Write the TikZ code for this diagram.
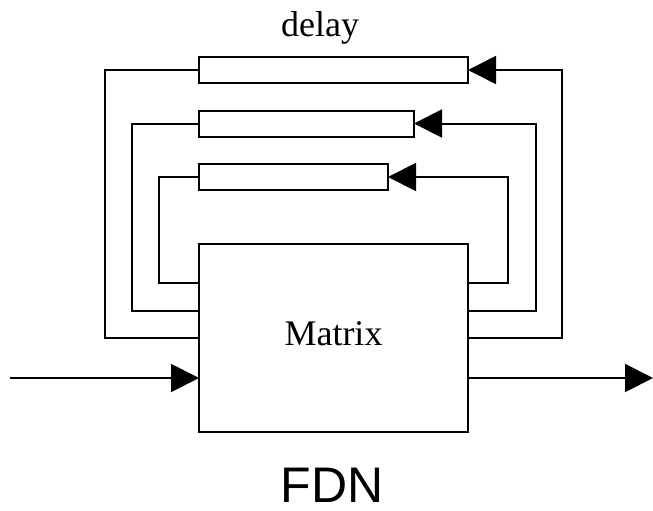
\documentclass[tikz,border=0pt]{standalone}
\usepackage{fontspec}
\setmainfont{Liberation Serif}
\newfontfamily\fdnfont{Liberation Sans}
\usetikzlibrary{arrows.meta}
\begin{document}
\begin{tikzpicture}[x=1pt,y=-1pt,line width=2pt,
  dbox/.style={draw,rectangle,minimum height=26pt,inner sep=0pt,outer sep=0pt,anchor=west},
  fb/.style={-{Triangle[length=28pt,width=28pt]}},
  sig/.style={-{Triangle[length=28pt,width=28pt]}}]
\useasboundingbox (0,0) rectangle (653,511);
\node[draw,rectangle,minimum width=269pt,minimum height=188pt,inner sep=0pt,outer sep=0pt,text depth=8pt,font=\fontsize{36}{40}\selectfont](mat)at(333.5,338){Matrix};
\node[dbox,minimum width=269pt](d1)at(199,70){};
\node[dbox,minimum width=215pt](d2)at(199,123.5){};
\node[dbox,minimum width=189pt](d3)at(199,177){};
\node[anchor=base,inner sep=0pt,font=\fontsize{36}{40}\selectfont](lbl)at(320,37){delay};
\node[anchor=base,inner sep=0pt,font=\fdnfont\fontsize{50}{56}\selectfont](fdn)at(332,502){FDN};
\draw[fb] ([yshift=55pt]mat.east) -- ++(40,0) |- (d3);
\draw[fb] ([yshift=27pt]mat.east) -- ++(68,0) |- (d2);
\draw[fb] (mat.east) -- ++(94,0) |- (d1);
\draw (d3.west) -- ++(-40,0) |- ([yshift=55pt]mat.west);
\draw (d2.west) -- ++(-67,0) |- ([yshift=27pt]mat.west);
\draw (d1.west) -- ++(-94,0) |- (mat.west);
\coordinate (in) at (10,378);
\coordinate (out) at (653,378);
\draw[sig] (in) -- (in -| mat.west);
\draw[sig] (in -| mat.east) -- (out);
\end{tikzpicture}
\end{document}
